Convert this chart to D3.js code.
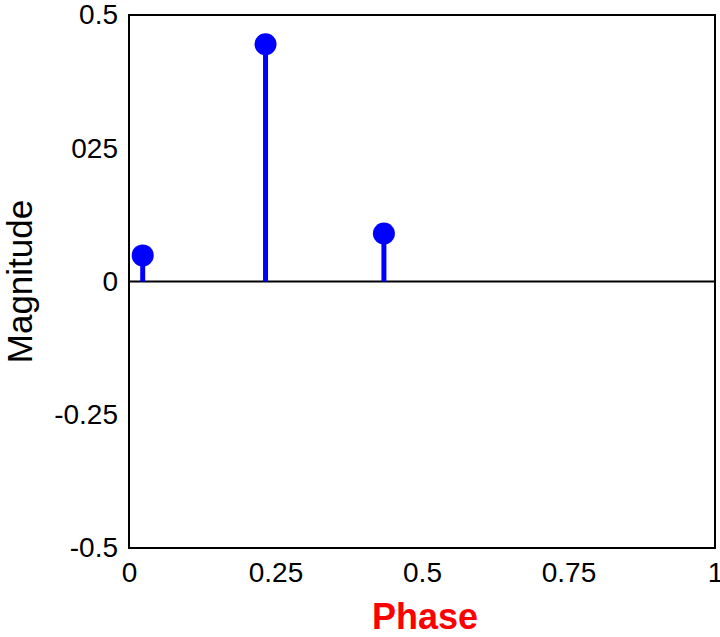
<!DOCTYPE html>
<html><head><meta charset="utf-8">
<script src="https://cdn.jsdelivr.net/npm/d3@7"></script>
<style>body{margin:0;background:#fff}svg{display:block}text{font-family:"Liberation Sans",Arial,sans-serif}</style>
</head><body>
<svg id="c" width="720" height="637"></svg>
<script>
const phases = [0.0234, 0.233, 0.435];
const magnitudes = [0.049, 0.445, 0.09];
const xTicks = [0, 0.25, 0.5, 0.75, 1];
const xTickLabels = ["0", "0.25", "0.5", "0.75", "1"];
const yTicks = [0.5, 0.25, 0, -0.25, -0.5];
const yTickLabels = ["0.5", "025", "0", "-0.25", "-0.5"];

const svg = d3.select("#c");
const L = 129, R = 715, T = 15, B = 548;
const x = d3.scaleLinear().domain([0, 1]).range([L, R]);
const y = d3.scaleLinear().domain([-0.5, 0.5]).range([B, T]);

svg.append("rect").attr("x", L).attr("y", T).attr("width", R - L).attr("height", B - T)
  .attr("fill", "none").attr("stroke", "#000").attr("stroke-width", 2);

svg.append("line").attr("x1", L).attr("x2", R).attr("y1", y(0)).attr("y2", y(0))
  .attr("stroke", "#000").attr("stroke-width", 2);

const xa = d3.axisBottom(x).tickValues(xTicks).tickSize(0).tickPadding(14)
  .tickFormat((d, i) => xTickLabels[i]);
const gx = svg.append("g").attr("transform", `translate(0,${B})`).call(xa);
gx.select(".domain").remove();
gx.selectAll("text").attr("font-size", 28).attr("fill", "#000")
  .style("font-family", '"Liberation Sans",Arial,sans-serif');

const ya = d3.axisLeft(y).tickValues(yTicks).tickSize(0).tickPadding(11)
  .tickFormat((d, i) => yTickLabels[i]);
const gy = svg.append("g").attr("transform", `translate(${L},0)`).call(ya);
gy.select(".domain").remove();
gy.selectAll("text").attr("font-size", 28).attr("fill", "#000")
  .style("font-family", '"Liberation Sans",Arial,sans-serif');

const data = phases.map((p, i) => ({p, m: magnitudes[i]}));
svg.selectAll("line.stem").data(data).enter().append("line").attr("class", "stem")
  .attr("x1", d => x(d.p)).attr("x2", d => x(d.p))
  .attr("y1", y(0)).attr("y2", d => y(d.m))
  .attr("stroke", "#0000ff").attr("stroke-width", 5);
svg.selectAll("circle.dot").data(data).enter().append("circle").attr("class", "dot")
  .attr("cx", d => x(d.p)).attr("cy", d => y(d.m)).attr("r", 11)
  .attr("fill", "#0000ff");

svg.append("text").attr("x", 425).attr("y", 629)
  .attr("text-anchor", "middle").attr("font-size", 36).attr("font-weight", "bold")
  .attr("fill", "#ff0000").text("Phase");

svg.append("text").attr("transform", `translate(32,${y(0)}) rotate(-90)`)
  .attr("text-anchor", "middle").attr("font-size", 35).attr("fill", "#000").text("Magnitude");
</script>
</body></html>
